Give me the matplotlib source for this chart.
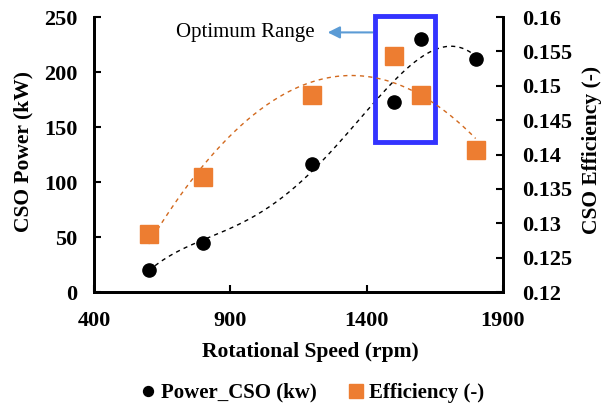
import numpy as np
import matplotlib.pyplot as plt
from matplotlib.patches import Rectangle

speed = [600, 800, 1200, 1500, 1600, 1800]
power = [20, 45, 116, 173, 230, 212]
efficiency = [0.1284, 0.1367, 0.1486, 0.1543, 0.1486, 0.1407]
eff_labels = ['0.12', '0.125', '0.13', '0.135', '0.14', '0.145', '0.15', '0.155', '0.16']

plt.rcParams['font.family'] = 'Liberation Serif'
plt.rcParams['font.weight'] = 'bold'

fig = plt.figure(figsize=(6.11, 4.05), dpi=100)
ax = fig.add_axes([0.154, 0.279, 0.669, 0.679])
ax2 = ax.twinx()

# trend lines (polynomial fits)
xs = np.linspace(600, 1800, 200)
p_fit = np.polyfit(speed, power, 4)
e_fit = np.polyfit(speed, efficiency, 2)
ax.plot(xs, np.polyval(p_fit, xs), ls=(0, (3, 3)), color='black', lw=1.0)
ax2.plot(xs, np.polyval(e_fit, xs), ls=(0, (3, 3)), color='#D2691E', lw=1.0)

l1, = ax.plot(speed, power, 'o', color='black', ms=9.5, zorder=5)
l2, = ax2.plot(speed, efficiency, 's', color='#ED7D31', ms=12.5, zorder=5)

ax.set_xlim(400, 1900)
ax.set_ylim(0, 250)
ax2.set_ylim(0.12, 0.16)
ax.set_xticks([400, 900, 1400, 1900])
ax.set_yticks(range(0, 251, 50))
ax2.set_yticks(np.linspace(0.12, 0.16, 9))
ax2.set_yticklabels(eff_labels)

for a in (ax, ax2):
    a.spines['top'].set_visible(False)
    for s in a.spines.values():
        s.set_linewidth(2)
    a.tick_params(direction='in', length=5, width=1.5, labelsize=16)
ax.tick_params(axis='y', pad=12)
ax.tick_params(axis='x', pad=14)
ax2.tick_params(axis='y', pad=14)

ax.set_xlabel('Rotational Speed (rpm)', fontsize=15.5, fontweight='bold')
ax.set_ylabel('CSO Power (kW)', fontsize=15.5, fontweight='bold')
ax2.set_ylabel('CSO Efficiency (-)', fontsize=15.5, fontweight='bold')
ax.xaxis.set_label_coords(0.53, -0.182)
ax.yaxis.set_label_coords(-0.149, 0.51)
ax2.yaxis.set_label_coords(1.193, 0.515)

# optimum range box and arrow
ax.add_patch(Rectangle((1432, 136), 218, 114.5, fill=False, edgecolor='#3333FF',
                       lw=3.5, clip_on=False, zorder=6))
ax.annotate('', xy=(1247, 236), xytext=(1432, 236),
            arrowprops=dict(arrowstyle='-|>', color='#5B9BD5', lw=1.5, mutation_scale=18),
            annotation_clip=False)
ax.text(1210, 236, 'Optimum Range', fontsize=15, fontweight='normal',
        ha='right', va='center')

fig.legend([l1, l2], ['Power_CSO (kw)', 'Efficiency (-)'], loc='center',
           bbox_to_anchor=(0.509, 0.03), ncol=2, frameon=False, fontsize=15,
           handlelength=1.0, handletextpad=0.1, columnspacing=1.4, markerscale=0.75)

fig.savefig('out.png', dpi=100)
